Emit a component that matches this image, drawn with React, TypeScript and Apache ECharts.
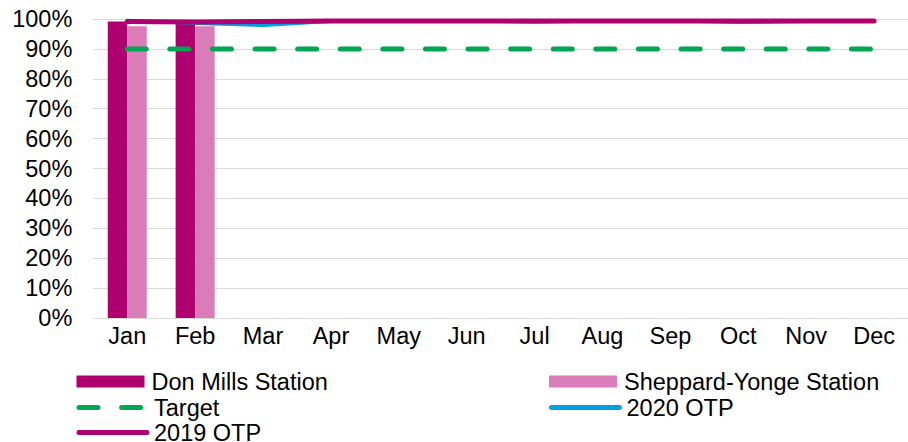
import React, { useEffect, useRef } from "react";
import * as echarts from "echarts";

const months = ["Jan", "Feb", "Mar", "Apr", "May", "Jun", "Jul", "Aug", "Sep", "Oct", "Nov", "Dec"];
const donMills = [99.2, 99.1, null, null, null, null, null, null, null, null, null, null];
const sheppardYonge = [97.6, 97.6, null, null, null, null, null, null, null, null, null, null];
const target = [90, 90, 90, 90, 90, 90, 90, 90, 90, 90, 90, 90];
const otp2020 = [99.6, 98.5, 97.8, 99.2, 99.3, 99.4, 98.9, 99.3, 99.4, 98.8, 99.2, 99.3];
const otp2019 = [99.2, 99.0, 99.2, 99.3, 99.3, 99.3, 99.3, 99.3, 99.3, 99.3, 99.3, 99.3];
const yTicks = [0, 10, 20, 30, 40, 50, 60, 70, 80, 90, 100];

const C_DARK = "#AF006F";
const C_PINK = "#D97CB8";
const C_GREEN = "#00A651";
const C_BLUE = "#009FE0";
const FONT = "'Liberation Sans', Arial, sans-serif";
const FS = 23.5;

export default function App() {
  const ref = useRef<HTMLDivElement>(null);
  useEffect(() => {
    if (!ref.current) return;
    const chart = echarts.init(ref.current, undefined, { renderer: "svg" });
    const legendText = { fontSize: FS, color: "#000", fontFamily: FONT, padding: [0, 0, 0, 2] };
    const hiddenSym = { color: "rgba(0,0,0,0)", borderWidth: 0, borderColor: "rgba(0,0,0,0)" };
    const mkLegend = (left: number, top: number, item: any) => ({
      orient: "horizontal",
      left,
      top,
      padding: 0,
      itemWidth: 68,
      itemHeight: 12,
      textStyle: legendText,
      data: [item],
    });
    chart.setOption({
      animation: false,
      textStyle: { fontFamily: FONT },
      grid: { left: 93.3, right: -5, top: 19, bottom: 124, containLabel: false },
      xAxis: {
        type: "category",
        data: months,
        axisLine: { show: true, lineStyle: { color: "#D9D9D9", width: 1 } },
        axisTick: { show: false },
        axisLabel: { fontSize: FS, color: "#000", margin: 6, fontFamily: FONT },
      },
      yAxis: {
        type: "value",
        min: yTicks[0],
        max: yTicks[yTicks.length - 1],
        interval: 10,
        axisLine: { show: false },
        axisTick: { show: false },
        splitLine: { lineStyle: { color: "#D9D9D9", width: 1 } },
        axisLabel: {
          fontSize: FS,
          color: "#000",
          margin: 21,
          fontFamily: FONT,
          formatter: "{value}%",
          padding: [5, 0, 0, 0],
        },
      },
      legend: [
        mkLegend(76.5, 369.5, { name: "Don Mills Station", icon: "rect" }),
        mkLegend(76.5, 395.5, { name: "Target", lineStyle: { width: 5 }, itemStyle: hiddenSym }),
        mkLegend(76.5, 420.5, { name: "2019 OTP", lineStyle: { width: 5 }, itemStyle: hiddenSym }),
        mkLegend(549, 369.5, { name: "Sheppard-Yonge Station", icon: "rect" }),
        mkLegend(549, 395.5, { name: "2020 OTP", lineStyle: { width: 5 }, itemStyle: hiddenSym }),
      ],
      series: [
        {
          name: "Don Mills Station",
          type: "bar",
          data: donMills,
          barWidth: 19.5,
          barGap: "0%",
          itemStyle: { color: C_DARK },
        },
        {
          name: "Sheppard-Yonge Station",
          type: "bar",
          data: sheppardYonge,
          barWidth: 19.5,
          barGap: "0%",
          itemStyle: { color: C_PINK },
        },
        {
          name: "Target",
          type: "line",
          data: target,
          symbol: "none",
          lineStyle: { color: C_GREEN, width: 5, type: [19, 23.6], cap: "round" },
          itemStyle: { color: C_GREEN },
        },
        {
          name: "2020 OTP",
          type: "line",
          data: otp2020,
          symbol: "none",
          lineStyle: { color: C_BLUE, width: 3, cap: "round" },
          itemStyle: { color: C_BLUE },
        },
        {
          name: "2019 OTP",
          type: "line",
          data: otp2019,
          symbol: "none",
          lineStyle: { color: C_DARK, width: 5, cap: "round" },
          itemStyle: { color: C_DARK },
        },
      ],
    });
    return () => chart.dispose();
  }, []);
  return (
    <div
      ref={ref}
      style={{ position: "absolute", left: 0, top: 0, width: 908, height: 442, background: "#fff" }}
    />
  );
}
